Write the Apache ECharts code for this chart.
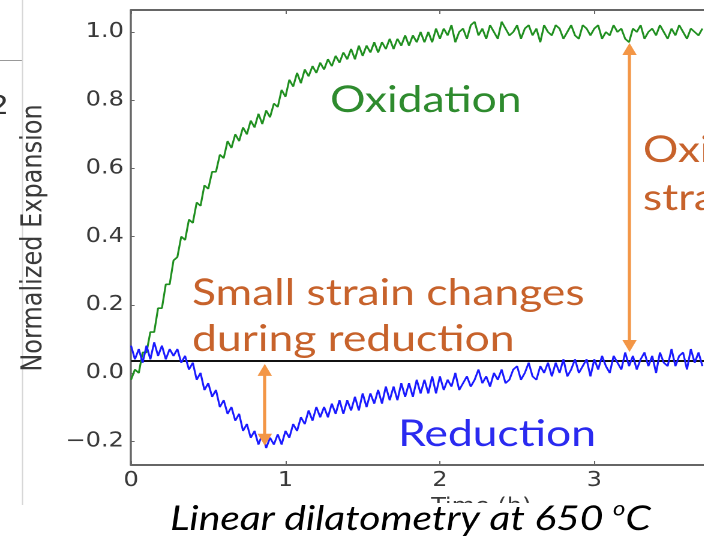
<!DOCTYPE html>
<html>
<head>
<meta charset="utf-8">
<script src="https://cdn.jsdelivr.net/npm/echarts@6/dist/echarts.min.js"></script>
<style>
  html, body { margin: 0; padding: 0; background: #fff; overflow: hidden; }
  /* the source slide image is stretched horizontally, so the chart is drawn
     narrow and widened by the same factor */
  #chart { width: 586.67px; height: 545px; transform: scaleX(1.2); transform-origin: 0 0; }
</style>
</head>
<body>
<div id="chart"></div>
<script>
// time in hours
var time = [
  0, 0.025, 0.05, 0.075, 0.1, 0.125, 0.15, 0.175, 0.2, 0.225,
  0.25, 0.275, 0.3, 0.325, 0.35, 0.375, 0.4, 0.425, 0.45, 0.475,
  0.5, 0.525, 0.55, 0.575, 0.6, 0.625, 0.65, 0.675, 0.7, 0.725,
  0.75, 0.775, 0.8, 0.825, 0.85, 0.875, 0.9, 0.925, 0.95, 0.975,
  1.0, 1.025, 1.05, 1.075, 1.1, 1.125, 1.15, 1.175, 1.2, 1.225,
  1.25, 1.275, 1.3, 1.325, 1.35, 1.375, 1.4, 1.425, 1.45, 1.475,
  1.5, 1.525, 1.55, 1.575, 1.6, 1.625, 1.65, 1.675, 1.7, 1.725,
  1.75, 1.775, 1.8, 1.825, 1.85, 1.875, 1.9, 1.925, 1.95, 1.975,
  2.0, 2.025, 2.05, 2.075, 2.1, 2.125, 2.15, 2.175, 2.2, 2.225,
  2.25, 2.275, 2.3, 2.325, 2.35, 2.375, 2.4, 2.425, 2.45, 2.475,
  2.5, 2.525, 2.55, 2.575, 2.6, 2.625, 2.65, 2.675, 2.7, 2.725,
  2.75, 2.775, 2.8, 2.825, 2.85, 2.875, 2.9, 2.925, 2.95, 2.975,
  3.0, 3.025, 3.05, 3.075, 3.1, 3.125, 3.15, 3.175, 3.2, 3.225,
  3.25, 3.275, 3.3, 3.325, 3.35, 3.375, 3.4, 3.425, 3.45, 3.475,
  3.5, 3.525, 3.55, 3.575, 3.6, 3.625, 3.65, 3.675, 3.7
];
var oxidation = [
  -0.02, 0.01, 0.0, 0.06, 0.06, 0.12, 0.12, 0.19, 0.19, 0.26,
  0.26, 0.33, 0.34, 0.40, 0.39, 0.45, 0.44, 0.50, 0.49, 0.55,
  0.54, 0.59, 0.59, 0.64, 0.63, 0.68, 0.66, 0.70, 0.68, 0.72,
  0.70, 0.74, 0.72, 0.76, 0.73, 0.77, 0.75, 0.79, 0.78, 0.83,
  0.81, 0.86, 0.84, 0.88, 0.85, 0.89, 0.87, 0.90, 0.88, 0.91,
  0.89, 0.92, 0.90, 0.93, 0.91, 0.94, 0.92, 0.95, 0.92, 0.96,
  0.93, 0.96, 0.94, 0.97, 0.94, 0.97, 0.95, 0.98, 0.95, 0.98,
  0.96, 0.99, 0.96, 0.99, 0.97, 1.00, 0.97, 1.00, 0.97, 1.01,
  0.98, 1.01, 0.99, 1.02, 0.97, 1.00, 1.01, 0.98, 1.02, 1.03,
  0.99, 1.01, 0.98, 1.02, 1.00, 0.98, 1.03, 1.01, 0.99, 1.00,
  1.02, 0.98, 1.01, 1.02, 0.99, 1.01, 0.97, 1.02, 1.00, 0.99,
  1.02, 1.01, 0.98, 1.00, 1.02, 0.99, 0.98, 1.02, 1.01, 0.99,
  1.01, 1.02, 0.98, 1.00, 0.99, 1.02, 1.00, 1.01, 0.98, 0.97,
  1.01, 1.00, 1.02, 0.98, 1.00, 1.01, 0.99, 1.02, 1.00, 0.98,
  1.01, 0.99, 1.02, 1.00, 0.98, 1.01, 1.00, 0.99, 1.01
];
var reduction = [
  0.08, 0.04, 0.07, 0.03, 0.08, 0.04, 0.09, 0.05, 0.08, 0.04,
  0.07, 0.05, 0.07, 0.03, 0.05, 0.01, 0.03, -0.02, 0.0, -0.05,
  -0.03, -0.07, -0.05, -0.10, -0.08, -0.12, -0.10, -0.14, -0.12, -0.17,
  -0.15, -0.19, -0.17, -0.21, -0.18, -0.22, -0.19, -0.21, -0.18, -0.21,
  -0.17, -0.19, -0.15, -0.17, -0.13, -0.15, -0.11, -0.14, -0.10, -0.13,
  -0.10, -0.13, -0.09, -0.12, -0.08, -0.12, -0.08, -0.11, -0.07, -0.11,
  -0.06, -0.10, -0.06, -0.09, -0.05, -0.09, -0.04, -0.08, -0.04, -0.08,
  -0.03, -0.07, -0.03, -0.07, -0.02, -0.06, -0.02, -0.06, -0.01, -0.06,
  -0.01, -0.05, -0.02, -0.04, 0.0, -0.05, -0.03, -0.01, -0.04, -0.02,
  0.01, -0.03, -0.01, -0.04, 0.0, -0.02, 0.01, -0.03, -0.02, 0.01,
  0.02, -0.02, 0.0, 0.03, -0.01, -0.02, 0.02, 0.0, 0.03, -0.01,
  0.03, 0.0, 0.04, -0.01, 0.01, 0.04, 0.0, 0.02, 0.04, -0.01,
  0.04, 0.01, 0.05, 0.02, 0.0, 0.05, 0.03, 0.01, 0.06, 0.02,
  0.05, 0.01, 0.04, 0.06, 0.02, 0.05, 0.0, 0.06, 0.03, 0.02,
  0.07, 0.02, 0.05, 0.06, 0.01, 0.07, 0.03, 0.06, 0.02
];
var refLevel = 0.035;
var xTicks = [0, 1, 2, 3];
var yTicks = [-0.2, 0.0, 0.2, 0.4, 0.6, 0.8, 1.0];
// [time, low end, high end]
var oxidationArrow = [3.228, 0.079, 0.95];
var reductionArrow = [0.866, -0.196, 0.009];

var green = "#1f8f1f", blue = "#1a1aff", arrowColor = "#f39646", noteColor = "#c7622b";
var axisColor = "#666", tickText = "#3a3a3a";
var plotFont = "DejaVu Sans";

function pairs(xs, ys) {
  return xs.map(function (x, i) { return [x, ys[i]]; });
}
function arrow(a) {
  return [[{ coord: [a[0], a[1]] }, { coord: [a[0], a[2]] }]];
}
function note(x, y, text, color) {
  return { type: "text", z: 60, x: x, y: y,
    style: { text: text, verticalAlign: "middle", font: "37px Lato", fill: color } };
}

var dom = document.getElementById("chart");
var myChart = echarts.init(dom, null, { renderer: "canvas", devicePixelRatio: 2 });

var option = {
  animation: false,
  backgroundColor: "#fff",
  grid: { left: 109.2, right: 0, top: 10, bottom: 80, containLabel: false },
  xAxis: [{
    type: "value",
    min: 0,
    max: 3.713,
    axisLine: { show: true, onZero: false, lineStyle: { color: axisColor, width: 2 } },
    axisTick: { show: true, inside: true, length: 4, customValues: xTicks, lineStyle: { color: axisColor } },
    axisLabel: {
      customValues: xTicks, margin: 6,
      fontFamily: plotFont, fontSize: 20, color: tickText,
      formatter: function (v) { return String(v); }
    },
    splitLine: { show: false }
  }, {
    type: "value",
    position: "top",
    min: 0,
    max: 3.713,
    axisLine: { show: true, onZero: false, lineStyle: { color: axisColor, width: 2 } },
    axisTick: { show: true, inside: true, length: 4, customValues: xTicks, lineStyle: { color: axisColor } },
    axisLabel: { show: false },
    splitLine: { show: false }
  }],
  yAxis: {
    type: "value",
    min: -0.27,
    max: 1.0645,
    axisLine: { show: true, onZero: false, lineStyle: { color: axisColor, width: 1.7 } },
    axisTick: { show: true, inside: true, length: 3, customValues: yTicks, lineStyle: { color: axisColor } },
    axisLabel: {
      customValues: yTicks, margin: 6,
      fontFamily: plotFont, fontSize: 20, color: tickText,
      formatter: function (v) { return v.toFixed(1).replace("-", "\u2212"); }
    },
    splitLine: { show: false }
  },
  series: [{
    name: "Reference",
    type: "line",
    data: [[0, refLevel], [3.713, refLevel]],
    symbol: "none",
    silent: true,
    lineStyle: { color: "#111", width: 2 },
    z: 1
  }, {
    name: "Oxidation",
    type: "line",
    data: pairs(time, oxidation),
    symbol: "none",
    lineStyle: { color: green, width: 1.6 },
    markLine: {
      silent: true,
      symbol: ["triangle", "triangle"],
      symbolSize: 12,
      label: { show: false },
      lineStyle: { color: arrowColor, width: 2.6, type: "solid" },
      data: arrow(oxidationArrow)
    },
    z: 2
  }, {
    name: "Reduction",
    type: "line",
    data: pairs(time, reduction),
    symbol: "none",
    lineStyle: { color: blue, width: 1.6 },
    markLine: {
      silent: true,
      symbol: ["triangle", "triangle"],
      symbolSize: 12,
      label: { show: false },
      lineStyle: { color: arrowColor, width: 2.6, type: "solid" },
      data: arrow(reductionArrow)
    },
    z: 3
  }],
  graphic: [
    // pieces of the neighbouring slide object on the left
    { type: "line", z: 50, shape: { x1: 18.75, y1: 0, x2: 18.75, y2: 505 }, style: { stroke: "#d6d6d6", lineWidth: 1 } },
    { type: "line", z: 50, shape: { x1: 0, y1: 60.5, x2: 18.3, y2: 60.5 }, style: { stroke: "#999", lineWidth: 1 } },
    { type: "text", z: 50, x: 7.5, y: 107, style: { text: "2", align: "right", verticalAlign: "middle", font: "26px 'DejaVu Sans'", fill: "#333" } },
    // axis titles
    { type: "text", z: 50, x: 28.3, y: 238, rotation: Math.PI / 2,
      style: { text: "Normalized Expansion", align: "center", verticalAlign: "middle", font: "24px 'DejaVu Sans'", fill: tickText } },
    { type: "text", z: 50, x: 401, y: 497,
      style: { text: "Time (h)", align: "center", verticalAlign: "top", font: "20px 'DejaVu Sans'", fill: tickText } },
    // notes
    note(275, 100, "Oxidation", "#2e8b2e"),
    note(331.7, 434, "Reduction", "#2a2af0"),
    note(160, 293, "Small strain changes", noteColor),
    note(160, 339, "during reduction", noteColor),
    note(535.8, 150, "Oxidation", noteColor),
    note(535.8, 198, "strain", noteColor),
    // caption box
    { type: "rect", z: 90, shape: { x: 20, y: 503, width: 567, height: 42 }, style: { fill: "#fff" } },
    { type: "text", z: 91, x: 141.7, y: 539,
      style: {
        text: "Linear dilatometry at 650 {sup|o}C",
        verticalAlign: "bottom",
        font: "italic 34px Lato",
        fill: "#000",
        rich: { sup: { font: "italic 20px Lato", fill: "#000", verticalAlign: "top", lineHeight: 40 } }
      } }
  ]
};

option && "object" == typeof option && myChart.setOption(option, true);
</script>
</body>
</html>
